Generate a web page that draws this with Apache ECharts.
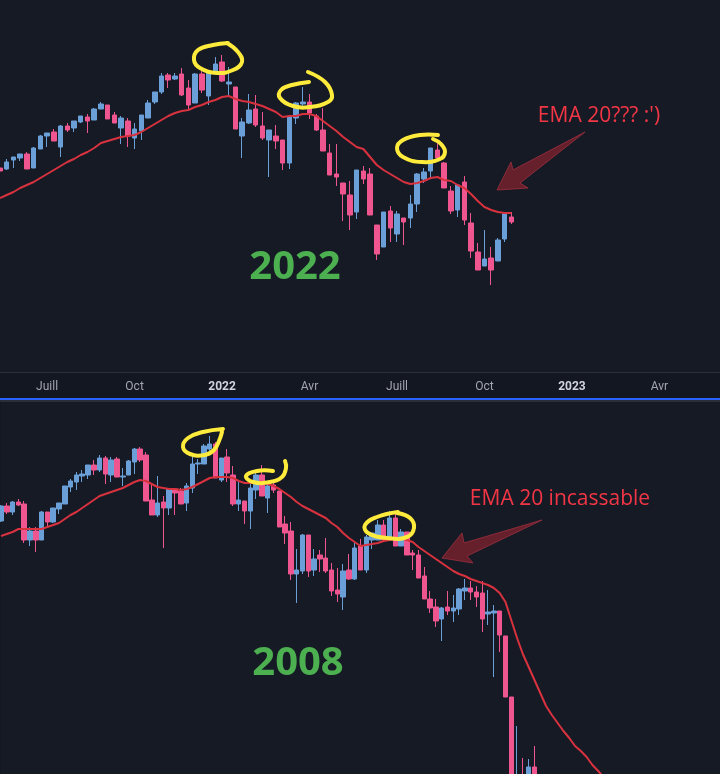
<!DOCTYPE html>
<html lang="fr">
<head>
<meta charset="UTF-8">
<title>EMA 20 - 2022 vs 2008</title>
<script src="https://cdn.jsdelivr.net/npm/echarts@6/dist/echarts.min.js"></script>
<style>
  html, body { margin: 0; padding: 0; background: #131722; }
  #chart { width: 720px; height: 774px; }
</style>
</head>
<body>
<div id="chart"></div>
<script>
// ---- 2022 (weekly), prices in chart units ----
var topOpen = [232,231,240,242,246,232,251,264,268,253, 274,272,278,283,280,291,295,285,272,279,
  262,269,282,298,308,325,321,326,312,297, 326,304,329,338,316,313,264,277,291,274,
  260,264,260,237,282,296,298,284,270,247, 226,217,205,188,229,226,175,153,189,166,
  182,182,196,221,229,250,237,209,190,218, 177,148,134,142,139,161,183];
var topClose = [229,238,243,246,231,252,264,267,259,274, 270,279,284,279,291,296,281,277,282,264,
  271,285,297,308,324,320,324,305,295,326, 310,329,336,319,318,271,278,290,275,262,
  270,259,237,283,297,298,287,270,249,225, 223,206,185,230,221,185,146,188,172,186,
  178,196,226,228,252,242,212,189,215,180, 149,130,141,130,160,186,178];
var topLow = [228,230,232,239,231,232,251,253,259,243, 268,268,277,267,280,291,281,277,256,253,
  251,260,282,296,306,312,320,304,289,297, 307,295,329,318,304,271,242,276,273,260,
  223,251,230,231,276,291,281,269,249,225, 214,179,170,181,216,185,140,153,158,158,
  155,172,188,217,221,241,212,186,183,175, 142,130,134,115,139,158,176];
var topHigh = [234,241,243,246,248,253,265,267,271,275, 277,279,284,286,292,298,295,288,284,282,
  277,285,300,308,327,327,327,332,320,327, 330,330,343,345,333,313,282,306,305,288,
  270,275,260,284,298,313,306,286,292,256, 256,217,219,230,234,232,175,188,194,189,
  182,205,227,232,252,259,238,214,216,224, 187,157,170,153,162,187,188];
var topEma = [202,205,208,212,215,218,222,226,230,234, 238,241,245,248,252,257,259,261,263,264,
  265,268,272,276,280,284,287,289,290,293, 295,298,300,303,304,301,299,298,296,294,
  291,288,283,284,284,286,286,284,279,274, 269,263,258,253,251,243,235,230,226,222,
  218,216,217,219,222,223,220,219,215,212, 206,199,193,190,188,187,187];
var topWeeks = 108;
var topTickIdx = [7, 20, 33, 46, 59, 72, 85, 98];
var topTickText = ['Juill', 'Oct', '2022', 'Avr', 'Juill', 'Oct', '2023', 'Avr'];

// ---- 2008 (weekly) ----
var botOpen = [279,294,288,298,296,260,269,260,288,278, 291,296,313,318,324,325,335,330,342,325,
  341,323,325,338,351,345,300,285,298,292, 311,309,297,312,336,336,351,356,320,343,
  325,296,299,289,310,325,302,315,309,276, 269,226,229,265,230,245,242,230,210,203,
  230,221,254,230,260,260,275,260,282,254, 268,247,245,224,201,193,181,193,189,191,
  209,212,208,207,186,187,189,164,103,-50, 15,-20,33];
var botClose = [294,288,298,295,260,269,260,288,278,292, 297,314,319,325,326,335,330,342,326,340,
  323,324,339,351,340,299,285,297,292,311, 307,296,314,336,337,354,356,322,342,327,
  296,300,289,312,325,304,314,310,273,267, 226,230,265,229,241,241,229,209,206,229,
  221,252,230,263,267,275,260,282,254,268, 245,245,222,201,192,179,192,189,192,211,
  212,208,203,181,188,189,165,103,-30,10, -30,33,0];
var botLow = [278,286,285,294,257,254,248,260,273,277, 286,296,308,310,318,321,325,328,316,318,
  323,314,325,326,338,299,285,283,252,285, 285,296,289,307,326,336,348,322,318,318,
  294,289,276,271,301,304,287,307,273,256, 220,197,226,223,224,228,227,204,198,190,
  220,220,230,227,251,260,258,260,254,254, 245,230,222,201,187,173,159,185,178,185,
  200,200,193,168,175,123,148,103,-40,-70, -40,-30,-10];
var botHigh = [295,297,299,301,299,273,273,289,288,292, 297,314,321,328,330,335,340,345,344,343,
  343,332,340,352,353,348,316,324,304,311, 312,312,317,344,341,356,364,358,342,351,
  334,318,299,316,328,335,315,319,309,284, 278,251,266,265,251,250,262,237,232,236,
  246,257,261,265,267,280,280,289,289,271, 268,250,250,233,209,201,193,209,205,212,
  221,219,214,219,210,195,189,164,103,74, 42,41,54];
var botEma = [264,266,268,271,271,271,271,271,273,275, 277,281,285,288,292,296,300,304,306,308,
  310,312,315,318,320,319,316,313,312,311, 311,310,311,313,316,319,322,323,323,323,
  322,319,317,317,317,317,316,314,311,307, 303,298,294,291,288,285,282,277,273,267,
  262,258,254,255,256,257,259,260,261,262, 260,258,253,249,245,241,237,233,229,226,
  224,221,219,217,215,212,207,198,180,162, 146,133,120,107,94,85,77,69,62,54,
  49,43,35,29,22];
var botWeeks = 125;

var UP = '#6b9fd8', DOWN = '#ef5690', EMA = '#d8323f', YELLOW = '#ffeb3b';

function candles(o, c, l, h) {
    return o.map(function (v, i) { return [v, c[i], l[i], h[i]]; });
}
function weeks(n) {
    var a = [];
    for (var i = 0; i < n; i++) a.push(String(i));
    return a;
}
function scribble(pts) {
    return {
        type: 'polyline', z: 100,
        shape: { points: pts, smooth: 0.45 },
        style: { stroke: YELLOW, lineWidth: 4, fill: null, lineCap: 'round', lineJoin: 'round' }
    };
}
function arrow(pts) {
    return {
        type: 'polygon', z: 90,
        shape: { points: pts },
        style: { fill: 'rgba(118,34,46,0.82)', stroke: 'rgba(150,44,60,0.9)', lineWidth: 1 }
    };
}
function label(x, y, txt, font, color) {
    return {
        type: 'text', x: x, y: y, z: 110,
        style: { text: txt, font: font, fill: color, textAlign: 'center', textVerticalAlign: 'middle',
                 align: 'center', verticalAlign: 'middle' }
    };
}

var candleStyle = { color: UP, color0: DOWN, borderColor: UP, borderColor0: DOWN, borderWidth: 1 };

var chart = echarts.init(document.getElementById('chart'));
chart.setOption({
    animation: false,
    backgroundColor: '#131722',
    grid: [
        { left: 0, right: 0, top: 0, height: 372, show: true, backgroundColor: '#161a25', borderWidth: 0 },
        { left: 1, right: 0, top: 400, bottom: 0, show: true, backgroundColor: '#161a25', borderWidth: 0 }
    ],
    xAxis: [
        {
            type: 'category', gridIndex: 0, data: weeks(topWeeks), boundaryGap: false,
            axisLine: { lineStyle: { color: '#2a2e39', width: 1 } },
            axisTick: { show: false },
            splitLine: { show: false },
            axisLabel: {
                margin: 9,
                interval: function (i) { return topTickIdx.indexOf(i) >= 0; },
                formatter: function (v, i) {
                    var k = topTickIdx.indexOf(i);
                    if (k < 0) return '';
                    var t = topTickText[k];
                    return /^\d+$/.test(t) ? '{y|' + t + '}' : '{m|' + t + '}';
                },
                rich: {
                    m: { color: '#a3a6af', fontSize: 12, fontFamily: 'Roboto' },
                    y: { color: '#d1d4dc', fontSize: 12, fontFamily: 'Roboto', fontWeight: 'bold' }
                }
            }
        },
        {
            type: 'category', gridIndex: 1, data: weeks(botWeeks), boundaryGap: false,
            axisLine: { show: false }, axisTick: { show: false }, axisLabel: { show: false },
            splitLine: { show: false }
        }
    ],
    yAxis: [
        { type: 'value', gridIndex: 0, min: 28, max: 400, show: false, splitLine: { show: false } },
        { type: 'value', gridIndex: 1, min: 26, max: 400, show: false, splitLine: { show: false } }
    ],
    series: [
        {
            type: 'candlestick', xAxisIndex: 0, yAxisIndex: 0, barWidth: 5, clip: true,
            data: candles(topOpen, topClose, topLow, topHigh), itemStyle: candleStyle
        },
        {
            type: 'line', xAxisIndex: 0, yAxisIndex: 0, data: topEma, showSymbol: false,
            lineStyle: { color: EMA, width: 2 }, z: 3, silent: true
        },
        {
            type: 'candlestick', xAxisIndex: 1, yAxisIndex: 1, barWidth: 5, clip: true,
            data: candles(botOpen, botClose, botLow, botHigh), itemStyle: candleStyle
        },
        {
            type: 'line', xAxisIndex: 1, yAxisIndex: 1, data: botEma, showSymbol: false,
            lineStyle: { color: EMA, width: 2 }, z: 3, silent: true, clip: true
        }
    ],
    graphic: { elements: [
        // panel separators
        { type: 'rect', z: 120, shape: { x: 0, y: 398, width: 720, height: 2 }, style: { fill: '#2962ff' } },
        { type: 'rect', z: 120, shape: { x: 0, y: 400, width: 720, height: 2 }, style: { fill: '#2a2e39' } },

        // 2022 drawings
        scribble([[227,43],[238,52],[242,62],[233,70],[217,73],[200,68],[194,60],[198,50],[213,45],[228,43]]),
        scribble([[308,72],[325,82],[332,95],[328,102],[310,107],[293,106],[280,98],[281,90],[292,85],[309,82]]),
        scribble([[438,135],[420,135],[403,140],[397,148],[403,157],[422,162],[440,159],[445,152],[441,144],[433,139]]),
        arrow([[497,190],[511,162],[513,170],[585,132],[520,183],[528,188]]),
        label(599, 116, "EMA 20??? :')", '21px "Open Sans"', '#f23645'),
        label(295, 268, '2022', 'bold 40px "Open Sans"', '#4caf50'),

        // 2008 drawings
        scribble([[223,429],[203,432],[188,438],[183,447],[190,454],[205,455],[214,450],[219,441],[222,432]]),
        scribble([[273,471],[257,471],[246,476],[253,482],[270,482],[282,477],[286,468],[285,461]]),
        scribble([[398,512],[377,517],[365,525],[368,533],[387,538],[407,537],[414,528],[410,518],[397,513]]),
        arrow([[442,558],[462,533],[464,543],[542,520],[467,556],[473,563]]),
        label(560, 499, 'EMA 20 incassable', '21px "Open Sans"', '#f23645'),
        label(298, 664, '2008', 'bold 40px "Open Sans"', '#4caf50')
    ] }
});
</script>
</body>
</html>
